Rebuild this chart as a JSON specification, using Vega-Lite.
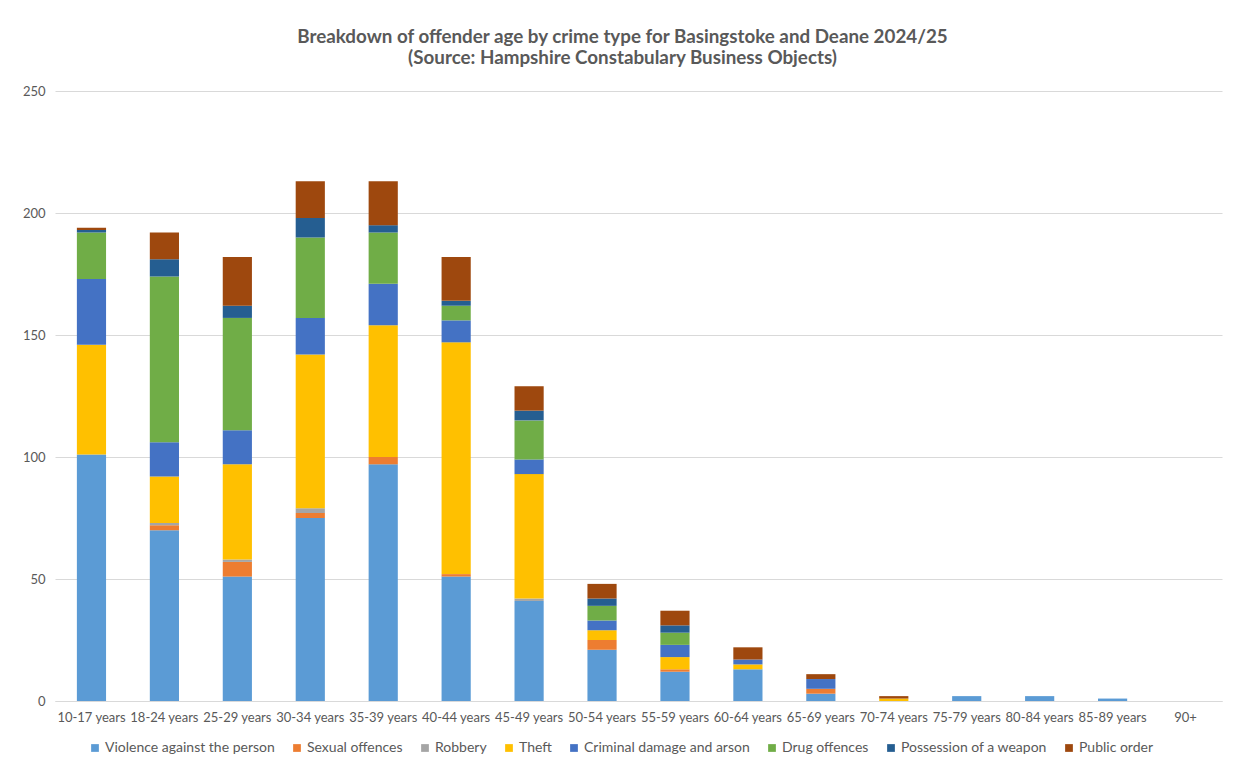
{
  "$schema": "https://vega.github.io/schema/vega-lite/v6.json",
  "width": 1167,
  "height": 610,
  "autosize": {"type": "none"},
  "padding": {"left": 55, "top": 91, "right": 14, "bottom": 61},
  "background": "white",
  "config": {"view": {"stroke": null}, "font": "Lato"},
  "title": {
    "text": ["Breakdown of offender age by crime type for Basingstoke and Deane 2024/25", "(Source: Hampshire Constabulary Business Objects)"],
    "fontSize": 18.8,
    "fontWeight": "bold",
    "color": "#595959",
    "anchor": "middle",
    "dx": -16,
    "offset": 17,
    "lineHeight": 21
  },
  "datasets": {
    "crimeOrder": [
      {"crime": "Violence against the person", "k": 0},
      {"crime": "Sexual offences", "k": 1},
      {"crime": "Robbery", "k": 2},
      {"crime": "Theft", "k": 3},
      {"crime": "Criminal damage and arson", "k": 4},
      {"crime": "Drug offences", "k": 5},
      {"crime": "Possession of a weapon", "k": 6},
      {"crime": "Public order", "k": 7}
    ]
  },
  "data": {
    "values": [
      {"age": "10-17 years", "Violence against the person": 101, "Sexual offences": 0, "Robbery": 0, "Theft": 45, "Criminal damage and arson": 27, "Drug offences": 19, "Possession of a weapon": 1, "Public order": 1},
      {"age": "18-24 years", "Violence against the person": 70, "Sexual offences": 2, "Robbery": 1, "Theft": 19, "Criminal damage and arson": 14, "Drug offences": 68, "Possession of a weapon": 7, "Public order": 11},
      {"age": "25-29 years", "Violence against the person": 51, "Sexual offences": 6, "Robbery": 1, "Theft": 39, "Criminal damage and arson": 14, "Drug offences": 46, "Possession of a weapon": 5, "Public order": 20},
      {"age": "30-34 years", "Violence against the person": 75, "Sexual offences": 2, "Robbery": 2, "Theft": 63, "Criminal damage and arson": 15, "Drug offences": 33, "Possession of a weapon": 8, "Public order": 15},
      {"age": "35-39 years", "Violence against the person": 97, "Sexual offences": 3, "Robbery": 0, "Theft": 54, "Criminal damage and arson": 17, "Drug offences": 21, "Possession of a weapon": 3, "Public order": 18},
      {"age": "40-44 years", "Violence against the person": 51, "Sexual offences": 1, "Robbery": 0, "Theft": 95, "Criminal damage and arson": 9, "Drug offences": 6, "Possession of a weapon": 2, "Public order": 18},
      {"age": "45-49 years", "Violence against the person": 41, "Sexual offences": 0, "Robbery": 1, "Theft": 51, "Criminal damage and arson": 6, "Drug offences": 16, "Possession of a weapon": 4, "Public order": 10},
      {"age": "50-54 years", "Violence against the person": 21, "Sexual offences": 4, "Robbery": 0, "Theft": 4, "Criminal damage and arson": 4, "Drug offences": 6, "Possession of a weapon": 3, "Public order": 6},
      {"age": "55-59 years", "Violence against the person": 12, "Sexual offences": 1, "Robbery": 0, "Theft": 5, "Criminal damage and arson": 5, "Drug offences": 5, "Possession of a weapon": 3, "Public order": 6},
      {"age": "60-64 years", "Violence against the person": 13, "Sexual offences": 0, "Robbery": 0, "Theft": 2, "Criminal damage and arson": 2, "Drug offences": 0, "Possession of a weapon": 0, "Public order": 5},
      {"age": "65-69 years", "Violence against the person": 3, "Sexual offences": 2, "Robbery": 0, "Theft": 0, "Criminal damage and arson": 4, "Drug offences": 0, "Possession of a weapon": 0, "Public order": 2},
      {"age": "70-74 years", "Violence against the person": 0, "Sexual offences": 0, "Robbery": 0, "Theft": 1, "Criminal damage and arson": 0, "Drug offences": 0, "Possession of a weapon": 0, "Public order": 1},
      {"age": "75-79 years", "Violence against the person": 2, "Sexual offences": 0, "Robbery": 0, "Theft": 0, "Criminal damage and arson": 0, "Drug offences": 0, "Possession of a weapon": 0, "Public order": 0},
      {"age": "80-84 years", "Violence against the person": 2, "Sexual offences": 0, "Robbery": 0, "Theft": 0, "Criminal damage and arson": 0, "Drug offences": 0, "Possession of a weapon": 0, "Public order": 0},
      {"age": "85-89 years", "Violence against the person": 1, "Sexual offences": 0, "Robbery": 0, "Theft": 0, "Criminal damage and arson": 0, "Drug offences": 0, "Possession of a weapon": 0, "Public order": 0},
      {"age": "90+", "Violence against the person": 0, "Sexual offences": 0, "Robbery": 0, "Theft": 0, "Criminal damage and arson": 0, "Drug offences": 0, "Possession of a weapon": 0, "Public order": 0}
    ]
  },
  "transform": [
    {"fold": ["Violence against the person", "Sexual offences", "Robbery", "Theft", "Criminal damage and arson", "Drug offences", "Possession of a weapon", "Public order"], "as": ["crime", "count"]},
    {"lookup": "crime", "from": {"data": {"name": "crimeOrder"}, "key": "crime", "fields": ["k"]}}
  ],
  "mark": {"type": "bar"},
  "encoding": {
    "x": {
      "field": "age",
      "type": "nominal",
      "sort": null,
      "scale": {"paddingInner": 0.6, "paddingOuter": 0.3},
      "axis": {"title": null, "labelAngle": 0, "labelFontSize": 13, "labelColor": "#595959", "ticks": false, "domainColor": "#d9d9d9", "labelPadding": 10}
    },
    "y": {
      "field": "count",
      "type": "quantitative",
      "stack": "zero",
      "scale": {"domain": [0, 250], "nice": false},
      "axis": {"title": null, "values": [0, 50, 100, 150, 200, 250], "labelFontSize": 13, "labelColor": "#595959", "ticks": false, "domain": false, "gridColor": "#d9d9d9", "labelPadding": 10}
    },
    "order": {"field": "k", "type": "quantitative", "sort": "ascending"},
    "color": {
      "field": "crime",
      "type": "nominal",
      "sort": ["Violence against the person", "Sexual offences", "Robbery", "Theft", "Criminal damage and arson", "Drug offences", "Possession of a weapon", "Public order"],
      "scale": {
        "domain": ["Violence against the person", "Sexual offences", "Robbery", "Theft", "Criminal damage and arson", "Drug offences", "Possession of a weapon", "Public order"],
        "range": ["#5B9BD5", "#ED7D31", "#A5A5A5", "#FFC000", "#4472C4", "#70AD47", "#255E91", "#9E480E"]
      },
      "legend": {
        "title": null,
        "orient": "none",
        "direction": "horizontal",
        "legendX": 33,
        "legendY": 650,
        "symbolType": "square",
        "symbolSize": 60,
        "labelFontSize": 14,
        "labelColor": "#595959",
        "labelLimit": 0,
        "columnPadding": 15,
        "symbolOffset": 0,
        "labelOffset": 3
      }
    },
    "tooltip": [{"field": "age"}, {"field": "crime"}, {"field": "count", "type": "quantitative"}]
  }
}
